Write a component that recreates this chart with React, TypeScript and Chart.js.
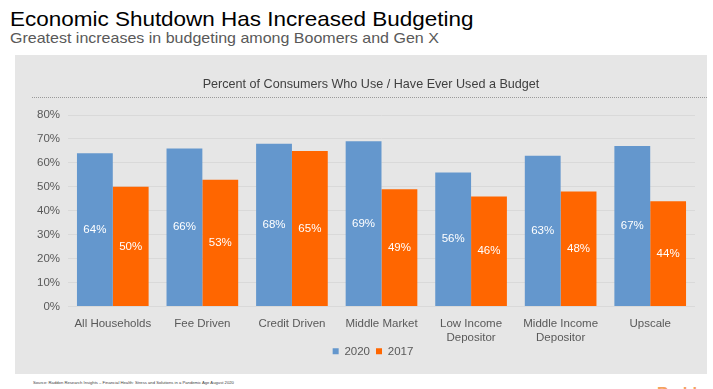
import React, { useEffect, useRef } from "react";
import { Chart, registerables } from "chart.js";

Chart.register(...registerables);

const categories: (string | string[])[] = [
  "All Households",
  "Fee Driven",
  "Credit Driven",
  "Middle Market",
  ["Low Income", "Depositor"],
  ["Middle Income", "Depositor"],
  "Upscale",
];
const values2020 = [64, 66, 68, 69, 56, 63, 67];
const values2017 = [50, 53, 65, 49, 46, 48, 44];
const seriesLabels = ["2020", "2017"];
const yTickMax = 80;
const yTickStep = 10;

const FONT = "'Liberation Sans', Arial, Helvetica, sans-serif";
const BLUE = "#6497CD";
const ORANGE = "#FF6600";
const PANEL = "#E6E6E6";
const LEGEND_PAD = 6;
const LEGEND_FONT = 11.5;

const decorPlugin = {
  id: "decor",
  afterLayout(chart: any) {
    const lg = chart.legend;
    if (!lg) return;
    // nudge legend: centered under the categories, closer to the axis labels
    const dx = 18;
    const targetCenter = chart.chartArea.bottom + 46;
    const curCenter = lg.top + LEGEND_PAD + (LEGEND_FONT * 1.2) / 2;
    const dy = targetCenter - curCenter;
    lg.left += dx;
    lg.right += dx;
    lg.top += dy;
    lg.bottom += dy;
  },
  beforeDraw(chart: any) {
    const ctx = chart.ctx;
    ctx.save();
    ctx.fillStyle = "#404040";
    ctx.font = `12.6px ${FONT}`;
    ctx.textAlign = "center";
    ctx.textBaseline = "middle";
    ctx.fillText("Percent of Consumers Who Use / Have Ever Used a Budget", chart.width / 2 + 10, 30);
    ctx.strokeStyle = "#9A9A9A";
    ctx.lineWidth = 1;
    ctx.setLineDash([1, 1]);
    ctx.beginPath();
    ctx.moveTo(17, 42.5);
    ctx.lineTo(chart.width, 42.5);
    ctx.stroke();
    ctx.restore();
  },
  afterDatasetsDraw(chart: any) {
    const ctx = chart.ctx;
    ctx.save();
    ctx.fillStyle = "#FFFFFF";
    ctx.font = `11.5px ${FONT}`;
    ctx.textAlign = "center";
    ctx.textBaseline = "middle";
    chart.data.datasets.forEach((ds: any, di: number) => {
      const meta = chart.getDatasetMeta(di);
      meta.data.forEach((bar: any, i: number) => {
        const y = (bar.y + bar.base) / 2;
        ctx.fillText(`${ds.data[i]}%`, bar.x, y);
      });
    });
    ctx.restore();
  },
};

function BarChart() {
  const ref = useRef<HTMLCanvasElement>(null);
  useEffect(() => {
    if (!ref.current) return;
    const chart = new Chart(ref.current, {
      type: "bar",
      data: {
        labels: categories,
        datasets: [
          { label: seriesLabels[0], data: values2020, backgroundColor: BLUE },
          { label: seriesLabels[1], data: values2017, backgroundColor: ORANGE },
        ],
      },
      options: {
        animation: false,
        responsive: false,
        maintainAspectRatio: false,
        layout: { padding: { top: 60, right: 12, bottom: 0, left: 0 } },
        datasets: { bar: { categoryPercentage: 0.8, barPercentage: 1.0 } },
        scales: {
          x: {
            grid: { display: false, drawTicks: false },
            border: { display: false },
            ticks: {
              color: "#595959",
              font: { family: FONT, size: 11.5, lineHeight: 1.22 },
              padding: 10,
              maxRotation: 0,
              autoSkip: false,
            },
            afterFit: (scale: any) => {
              scale.height = 40;
            },
          },
          y: {
            min: 0,
            max: yTickMax,
            ticks: {
              stepSize: yTickStep,
              color: "#595959",
              font: { family: FONT, size: 11.5 },
              padding: 8,
              callback: (v: any) => `${v}%`,
            },
            grid: { color: "#D9D9D9", drawTicks: false },
            border: { display: false },
            afterFit: (scale: any) => {
              scale.width = 53;
            },
          },
        },
        plugins: {
          legend: {
            position: "bottom",
            labels: {
              boxWidth: 6,
              boxHeight: 6,
              color: "#595959",
              font: { family: FONT, size: LEGEND_FONT, lineHeight: 1.2 },
              padding: LEGEND_PAD,
            },
          },
          tooltip: { enabled: false },
          title: { display: false },
        },
      },
      plugins: [decorPlugin],
    });
    return () => chart.destroy();
  }, []);
  return <canvas ref={ref} width={692} height={319} style={{ display: "block" }} />;
}

export default function App() {
  return (
    <div
      style={{
        position: "absolute",
        left: 0,
        top: 0,
        width: 713,
        height: 389,
        overflow: "hidden",
        background: "#FFFFFF",
        fontFamily: FONT,
      }}
    >
      <div
        style={{
          position: "absolute",
          left: 10,
          top: 7,
          fontSize: 21,
          lineHeight: "24px",
          color: "#000",
          whiteSpace: "nowrap",
          transform: "scaleX(1.07)",
          transformOrigin: "left top",
        }}
      >
        Economic Shutdown Has Increased Budgeting
      </div>
      <div
        style={{
          position: "absolute",
          left: 10,
          top: 29,
          fontSize: 15,
          lineHeight: "17px",
          color: "#595959",
          whiteSpace: "nowrap",
          transform: "scaleX(1.067)",
          transformOrigin: "left top",
        }}
      >
        Greatest increases in budgeting among Boomers and Gen X
      </div>
      <div style={{ position: "absolute", left: 15, top: 55, width: 692, height: 319, background: PANEL }}>
        <BarChart />
      </div>
      <div style={{ position: "absolute", left: 33, top: 380, fontSize: 4.2, color: "#404040", whiteSpace: "nowrap" }}>
        Source: Raddon Research Insights – Financial Health: Stress and Solutions in a Pandemic Age August 2020
      </div>
      <div style={{ position: "absolute", left: 657, top: 385, fontSize: 16, fontWeight: "bold", color: "#F5A25D", whiteSpace: "nowrap" }}>
        Raddon
      </div>
    </div>
  );
}
